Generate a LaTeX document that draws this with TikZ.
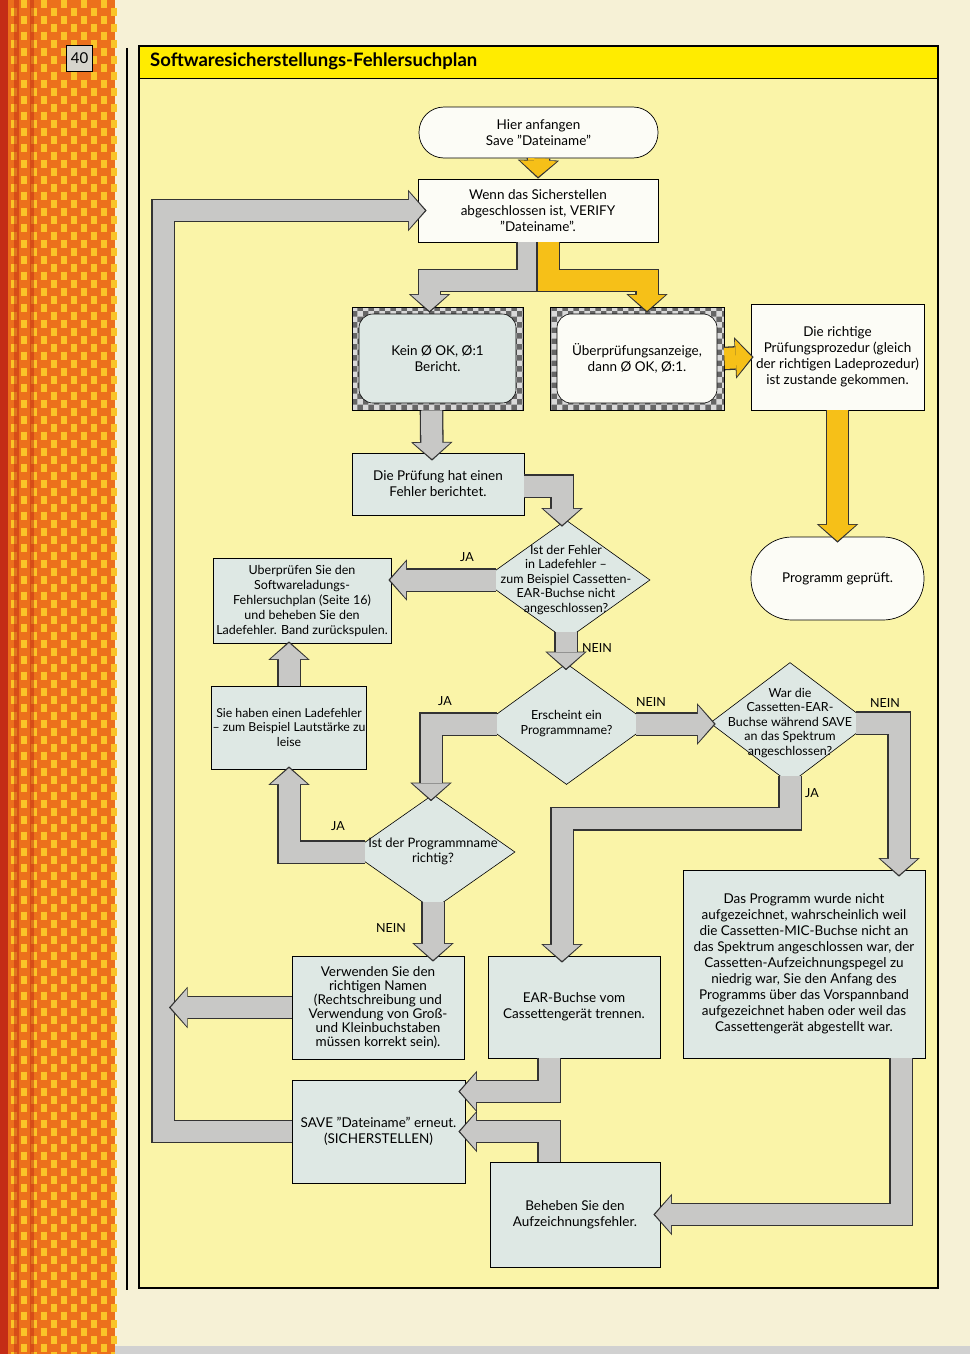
\documentclass[tikz,border=0pt]{standalone}
\usepackage{fontspec}
\setmainfont{Lato}
\usetikzlibrary{arrows.meta,shapes.geometric,patterns,backgrounds,calc}
\definecolor{paper}{RGB}{246,241,214}
\definecolor{orangestrip}{RGB}{236,112,28}
\definecolor{stripyellow}{RGB}{250,196,40}
\definecolor{stripred}{RGB}{196,44,22}
\definecolor{panel}{RGB}{250,244,168}
\definecolor{titleyellow}{RGB}{255,236,0}
\definecolor{boxblue}{RGB}{222,232,228}
\definecolor{boxwhite}{RGB}{252,252,246}
\definecolor{agray}{RGB}{200,200,198}
\definecolor{ayellow}{RGB}{246,192,24}
\definecolor{numgray}{RGB}{214,212,204}
\newcommand\diatext[1]{\makebox[0pt]{\smash{\raisebox{-0.25em}{\begin{tabular}{@{}c@{}}#1\end{tabular}}}}}
\tikzset{
  every node/.style={font=\fontsize{13.5}{16}\selectfont, align=center, inner sep=1pt},
  box/.style={draw=black, line width=0.7pt, fill=#1, rectangle},
  box/.default=boxblue,
  term/.style={draw=black, line width=0.7pt, fill=boxwhite, rounded corners=#1},
  dia/.style={draw=black, line width=0.6pt, fill=boxblue, diamond, inner sep=0pt, font=\fontsize{12.5}{14.5}\selectfont},
  tv/.style={draw=black, line width=0.8pt, fill=black!60, rectangle, path picture={
      \fill[pattern=checkerboard, pattern color=white!85!black] (path picture bounding box.south west) rectangle (path picture bounding box.north east);
      \filldraw[fill=#1, draw=black, line width=0.6pt, rounded corners=14pt] ([shift={(7pt,-7pt)}]path picture bounding box.north west) rectangle ([shift={(-7pt,7pt)}]path picture bounding box.south east);}},
  garrow/.style={line width=21pt, draw=agray, line join=miter, shorten >=1.8pt,
      -{Triangle[width=37pt,length=16pt,line width=0pt]},
      preaction={draw=black!80, line width=23.6pt, shorten >=0pt, -{Triangle[width=41.5pt,length=18.6pt,line width=0pt]}}},
  yarrow/.style={garrow, draw=ayellow},
  lbl/.style={font=\fontsize{12.5}{14}\selectfont, inner sep=0pt},
}
\begin{document}
\begin{tikzpicture}[x=1pt,y=-1pt]
\useasboundingbox (0,0) rectangle (970,1354);

% ---- nodes ----
\node[anchor=west, font=\fontsize{18.5}{20}\selectfont\bfseries] (title) at (149,61) {Softwaresicherstellungs-Fehlersuchplan};
\node[draw, line width=1.4pt, fill=numgray, minimum width=26pt, minimum height=26pt, inner sep=0pt, font=\fontsize{15}{15}\selectfont] (pnum) at (79.5,58.5) {40};

\node[term=25pt, minimum width=239pt, minimum height=51pt] (start) at (538.5,132.5) {Hier anfangen\\Save "Dateiname"};
\node[box=boxwhite, minimum width=240pt, minimum height=63pt] (verify) at (538,210.5) {Wenn das Sicherstellen\\abgeschlossen ist, VERIFY\\"Dateiname".};
\node[tv=boxblue, minimum width=171pt, minimum height=103pt] (kein) at (437.5,358.5) {Kein Ø OK, Ø:1\\Bericht.};
\node[tv=boxwhite, minimum width=174pt, minimum height=103pt] (ueber) at (637,358.5) {Überprüfungsanzeige,\\dann Ø OK, Ø:1.};
\node[box=boxwhite, minimum width=173pt, minimum height=106pt] (richtig) at (837.5,357) {Die richtige\\Prüfungsprozedur (gleich\\der richtigen Ladeprozedur)\\ist zustande gekommen.};
\node[term=41pt, minimum width=173pt, minimum height=83pt] (geprueft) at (837.5,578.5) {Programm geprüft.};
\node[box, minimum width=172pt, minimum height=62pt] (pruefung) at (438,484) {Die Prüfung hat einen\\Fehler berichtet.};
\node[dia, minimum width=168pt, minimum height=120pt] (dec1) at (566,580) {\diatext{Ist der Fehler\\in Ladefehler –\\zum Beispiel Cassetten-\\EAR-Buchse nicht\\angeschlossen?}};
\node[box, minimum width=178pt, minimum height=85pt, font=\fontsize{12.5}{15}\selectfont] (ueberpr) at (302,600.5) {Uberprüfen Sie den\\Softwareladungs-\\Fehlersuchplan (Seite 16)\\und beheben Sie den\\Ladefehler. Band zurückspulen.};
\node[box, minimum width=152pt, minimum height=83pt, font=\fontsize{12.3}{14.5}\selectfont] (ladef) at (289,727.5) {Sie haben einen Ladefehler\\– zum Beispiel Lautstärke zu\\leise};
\node[dia, minimum width=167pt, minimum height=121pt] (dec2) at (566.5,724) {\diatext{Erscheint ein\\Programmname?}};
\node[dia, minimum width=160pt, minimum height=121pt] (dec3) at (790,723) {\diatext{War die\\Cassetten-EAR-\\Buchse während SAVE\\an das Spektrum\\angeschlossen?}};
\node[dia, minimum width=164pt, minimum height=115pt, font=\fontsize{13}{15}\selectfont] (dec4) at (433,852) {\diatext{Ist der Programmname\\richtig?}};
\node[box, minimum width=172pt, minimum height=103pt, font=\fontsize{13.5}{14}\selectfont] (richtigname) at (378,1007.5) {Verwenden Sie den\\richtigen Namen\\(Rechtschreibung und\\Verwendung von Groß-\\und Kleinbuchstaben\\müssen korrekt sein).};
\node[box, minimum width=172pt, minimum height=102pt] (ear) at (574,1007) {EAR-Buchse vom\\Cassettengerät trennen.};
\node[box, minimum width=242pt, minimum height=188pt] (nichtauf) at (804,964) {Das Programm wurde nicht\\aufgezeichnet, wahrscheinlich weil\\die Cassetten-MIC-Buchse nicht an\\das Spektrum angeschlossen war, der\\Cassetten-Aufzeichnungspegel zu\\niedrig war, Sie den Anfang des\\Programms über das Vorspannband\\aufgezeichnet haben oder weil das\\Cassettengerät abgestellt war.};
\node[box, minimum width=173pt, minimum height=103pt] (save) at (378.5,1131.5) {SAVE "Dateiname" erneut.\\(SICHERSTELLEN)};
\node[box, minimum width=170pt, minimum height=105pt] (beheben) at (575,1214.5) {Beheben Sie den\\Aufzeichnungsfehler.};

\coordinate (loopx) at (163,210.5);

% ---- arrows ----
\draw[garrow] (save.west) -| (loopx) -- ([xshift=9pt]verify.west);
\draw[garrow] (richtigname.west) -- ([xshift=6pt]loopx |- richtigname.west);
\draw[yarrow] (start.south) -- (verify.north);
\draw[garrow] ([xshift=-10pt]verify.south) -- ++(0,38) -| ([xshift=-8pt,yshift=-6pt]kein.north);
\draw[yarrow] ([xshift=10pt]verify.south) -- ++(0,38) -| ([xshift=10pt,yshift=-6pt]ueber.north);
\draw[yarrow] (ueber.east) -- ([xshift=3pt]richtig.west);
\draw[yarrow] (richtig.south) -- ([yshift=-6pt]geprueft.north);
\draw[garrow] ([xshift=-6pt]kein.south) -- ([xshift=-6pt,yshift=-8pt]pruefung.north);
\draw[garrow] ([yshift=-2pt]pruefung.east) -| ([xshift=-4pt,yshift=-7pt]dec1.north);
\draw[garrow] ([xshift=14pt]dec1.west) -- ([xshift=-3pt]ueberpr.east |- dec1.west);
\draw[garrow] ([yshift=8pt]dec1.south) -- ([yshift=-7pt]dec1.south |- dec2.north);
\draw[garrow] (ladef.north) -- ([yshift=2pt]ladef.north |- ueberpr.south);
\draw[garrow] ([xshift=14pt]dec2.west) -| ([xshift=-2pt,yshift=-7pt]dec4.north);
\draw[garrow] ([xshift=-14pt]dec2.east) -- ([xshift=6pt]dec3.west |- dec2.east);
\draw[garrow] ([xshift=-14pt]dec3.east) -| ([xshift=95pt,yshift=-7pt]nichtauf.north);
\draw[garrow] ([yshift=8pt]dec3.south) -- ++(0,43) -| ([xshift=-12pt,yshift=-7pt]ear.north);
\draw[garrow] ([xshift=14pt]dec4.west) -| ([yshift=3pt]ladef.south);
\draw[garrow] ([yshift=8pt]dec4.south) -- ([yshift=-6pt]dec4.south |- richtigname.north);
\draw[garrow] ([xshift=-25pt]ear.south) |- ([xshift=-7pt,yshift=40pt]save.east);
\draw[garrow] ([xshift=-26pt]beheben.north) |- ([xshift=-7pt]save.east);
\draw[garrow] ([xshift=97pt]nichtauf.south) |- ([xshift=-7pt]beheben.east);

% ---- labels ----
\node[lbl] (ja1) at (467,557) {JA};
\node[lbl] (nein1) at (597,648) {NEIN};
\node[lbl] (ja2) at (445,701) {JA};
\node[lbl] (nein2) at (651,702) {NEIN};
\node[lbl] (nein3) at (885,703) {NEIN};
\node[lbl] (ja3) at (812,793) {JA};
\node[lbl] (ja4) at (338,826) {JA};
\node[lbl] (nein4) at (391,928) {NEIN};

\begin{pgfonlayer}{background}
\fill[paper] (0,0) rectangle (970,1354);
\fill[orangestrip] (0,0) rectangle (115,1354);
\foreach \x [count=\c] in {14,24,...,114} {
  \pgfmathsetmacro\ph{mod(\c,2)*8}
  \draw[stripyellow, line width=6pt, dash pattern=on 8pt off 8pt, dash phase=\ph pt] (\x,0) -- (\x,1354);
}
\fill[stripred] (0,0) rectangle (8,1354);
\fill[stripred, opacity=0.5] (14,0) rectangle (19,1354);
\fill[stripred, opacity=0.5] (30,0) rectangle (34,1354);
\fill[black!18] (115,1346) rectangle (970,1354);
\draw[line width=1.2pt] (127,48) -- (127,1290);
\fill[panel] (139,78) rectangle (938,1288);
\fill[titleyellow] (139,46) rectangle (938,78);
\draw[line width=1.1pt] (139,46) rectangle (938,1288);
\draw[line width=1pt] (139,78) -- (938,78);
\end{pgfonlayer}
\end{tikzpicture}
\end{document}
